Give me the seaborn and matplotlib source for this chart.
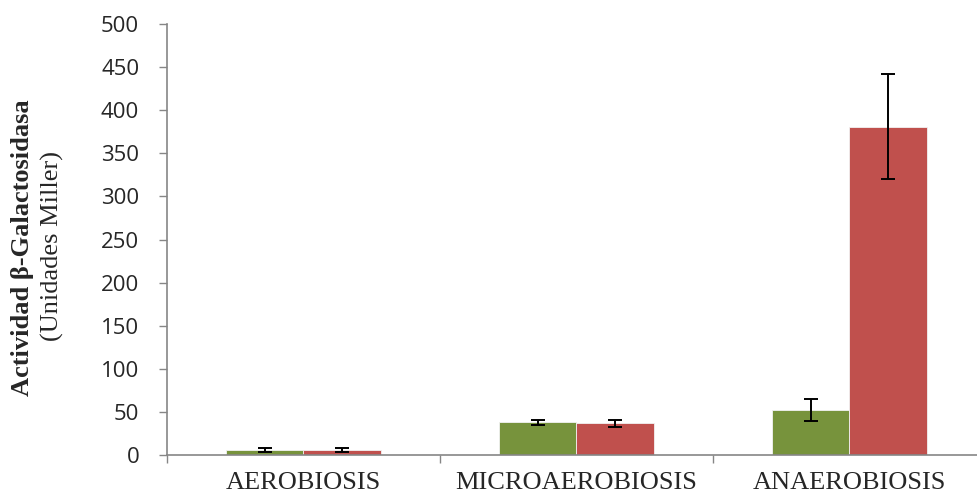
import numpy as np
import pandas as pd
import seaborn as sns
import matplotlib
matplotlib.use("Agg")
import matplotlib.pyplot as plt

# Data: beta-galactosidase activity (Miller units) per oxygen condition
condiciones = ["AEROBIOSIS", "MICROAEROBIOSIS", "ANAEROBIOSIS"]
series = ["Serie 1", "Serie 2"]
valores_serie1 = [6, 38, 52]
valores_serie2 = [6, 37, 381]
error_serie1 = [2, 3, 12.5]
error_serie2 = [2, 4, 61]
colores = ["#77933C", "#C0504D"]
yticks = [0, 50, 100, 150, 200, 250, 300, 350, 400, 450, 500]

df = pd.DataFrame({
    "condicion": condiciones * 2,
    "serie": [series[0]] * 3 + [series[1]] * 3,
    "valor": valores_serie1 + valores_serie2,
    "error": error_serie1 + error_serie2,
})

sns.set_theme(style="white")
plt.rcParams["font.family"] = ["DejaVu Sans"]

fig = plt.figure(figsize=(9.78, 4.97), dpi=100)
ax = fig.add_axes([167 / 978, 1 - 455 / 497, (986 - 167) / 978, (455 - 24) / 497])

sns.barplot(data=df, x="condicion", y="valor", hue="serie", order=condiciones,
            hue_order=series, palette=colores, width=0.57, gap=0,
            errorbar=None, saturation=1, legend=False, ax=ax,
            edgecolor="#f2f2f2", linewidth=0.6)

# Error bars centred on each bar
for cont, s in zip(ax.containers, series):
    sub = df[df["serie"] == s].set_index("condicion").loc[condiciones]
    xs = [p.get_x() + p.get_width() / 2 for p in cont.patches]
    ax.errorbar(xs, sub["valor"], yerr=sub["error"], fmt="none",
                ecolor="black", elinewidth=1.4, capsize=5, capthick=1.4, zorder=5)

ax.set_xlim(-0.5, 2.5)
ax.set_ylim(0, 500)
ax.set_yticks(yticks)
ax.set_yticklabels([str(t) for t in yticks], fontsize=16, family="Open Sans")

# Category ticks on the boundaries, labels in the middle
ax.set_xticks([-0.5, 0.5, 1.5], minor=False)
ax.set_xticklabels([])
ax.set_xticks([0, 1, 2], minor=True)
ax.set_xticklabels(condiciones, minor=True, fontsize=19, family="Liberation Serif")
ax.tick_params(axis="x", which="minor", bottom=False, length=0, pad=12)
ax.tick_params(axis="x", which="major", bottom=True, length=6, width=1,
               color="#868686", direction="out")
ax.tick_params(axis="y", left=True, length=6, width=1, color="#868686",
               direction="out", pad=14)
ax.set_xlabel("")
ax.set_ylabel("")

for side in ["top", "right"]:
    ax.spines[side].set_visible(False)
for side in ["left", "bottom"]:
    ax.spines[side].set_color("#868686")
    ax.spines[side].set_linewidth(1.2)

fig.text(23 / 978, 1 - 248 / 497, "Actividad β-Galactosidasa", rotation=90,
         ha="center", va="center", fontsize=19, fontweight="bold",
         family="Liberation Serif")
fig.text(52 / 978, 1 - 246 / 497, "(Unidades Miller)", rotation=90,
         ha="center", va="center", fontsize=19, family="Liberation Serif")

fig.savefig("out.png", dpi=100)
